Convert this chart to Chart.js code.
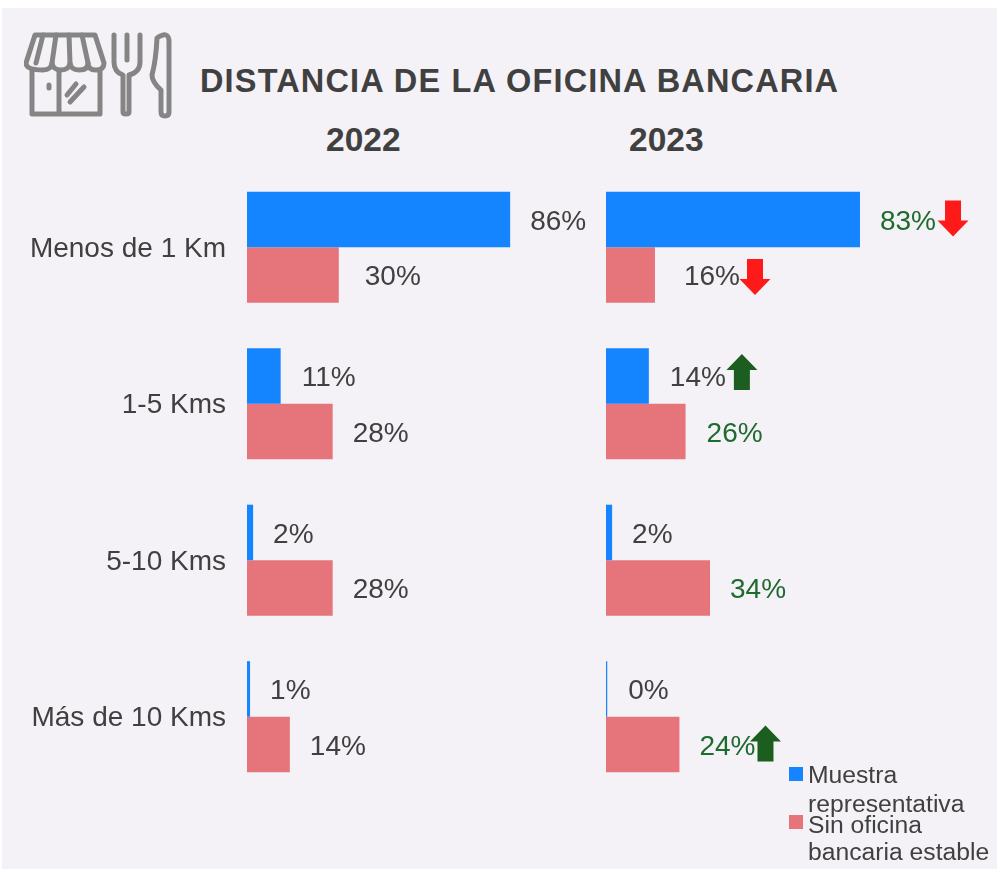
<!DOCTYPE html>
<html lang="es"><head><meta charset="utf-8">
<script src="https://cdn.jsdelivr.net/npm/chart.js@4"></script>
<style>
html,body{margin:0;padding:0;background:#fff;overflow:hidden}
#page{position:relative;width:1000px;height:874px;font-family:"Liberation Sans",Arial,sans-serif;color:#404040}
#bg{position:absolute;left:2px;top:8px;width:995px;height:861px;background:#f4f2f6}
canvas{position:absolute}
.t{position:absolute;white-space:nowrap;line-height:1}
.sw{position:absolute;width:14px;height:14px}
svg{position:absolute}
</style></head><body>
<div id="page">
<div id="bg"></div>
<svg id="icon" style="left:24px;top:30px" width="150" height="90" viewBox="0 0 150 90" fill="none" stroke="#858585" stroke-width="5" stroke-linecap="round" stroke-linejoin="round">
  <path d="M11 5H71L80 33Q80 40 72 40Q64 40 64 33Q64 40 55 40Q47 40 46 33Q45 40 37 40Q29 40 28 33Q27 40 19 40Q2 40 2 33Z"/>
  <path d="M19 5L12 33M32 5L28 33M45 5L46 33M58 5L64 33"/>
  <path d="M8 41V84H76V41M35 41V84"/>
  <path d="M25 55V58M43 65L52 54M46 72L60 57"/>
  <path d="M90 5V32Q90 42 99 45V82Q99 84 102 84Q105 84 105 82V45Q116 42 116 32V5M103 5V30"/>
  <path d="M133 8Q145 0 145 12V82Q145 86 141 86Q137 86 137 82V60Q128 52 128 45Q132 30 133 8Z"/>
</svg>
<div class="t" style="left:200px;top:65px;font-size:32.5px;font-weight:bold;letter-spacing:1.15px">DISTANCIA DE LA OFICINA BANCARIA</div>
<div class="t" style="left:326px;top:123px;font-size:33.5px;font-weight:bold">2022</div>
<div class="t" style="left:629px;top:123px;font-size:33.5px;font-weight:bold">2023</div>
<canvas id="c1" style="left:0;top:169px"></canvas>
<canvas id="c2" style="left:606px;top:169px"></canvas>
<div class="sw" style="left:789px;top:767px;background:#1484ff"></div>
<div class="t" style="left:808px;top:763px;font-size:24.7px">Muestra</div>
<div class="t" style="left:808px;top:792px;font-size:24.7px">representativa</div>
<div class="sw" style="left:789px;top:815px;background:#e5757b"></div>
<div class="t" style="left:808px;top:813px;font-size:24.7px">Sin oficina</div>
<div class="t" style="left:808px;top:840px;font-size:24.7px">bancaria estable</div>
</div>
<script>
const categories = ['Menos de 1 Km', '1-5 Kms', '5-10 Kms', 'Más de 10 Kms'];
const seriesNames = ['Muestra representativa', 'Sin oficina bancaria estable'];
const muestra2022 = [86, 11, 2, 1];
const sinOficina2022 = [30, 28, 28, 14];
const muestra2023 = [83, 14, 2, 0.4];
const sinOficina2023 = [16, 26, 34, 24];
const arrowsMuestra2023 = ['down', 'up', null, null];
const arrowsSinOficina2023 = ['down', null, null, 'up'];
const greenMuestra2023 = [true, false, false, false];
const greenSinOficina2023 = [false, true, true, true];

const BLUE = '#1484ff', RED = '#e5757b', TEXT = '#404040', GREEN = '#1f6a2f';
const FONT = '"Liberation Sans", Arial, sans-serif';

function drawArrow(ctx, cx, cy, dir) {
  const s = dir === 'up' ? -1 : 1;
  ctx.save();
  ctx.fillStyle = dir === 'up' ? '#1b5e20' : '#ff1a1a';
  ctx.beginPath();
  ctx.moveTo(cx - 8, cy - s * 18);
  ctx.lineTo(cx + 8, cy - s * 18);
  ctx.lineTo(cx + 8, cy + s * 2);
  ctx.lineTo(cx + 15.5, cy + s * 2);
  ctx.lineTo(cx, cy + s * 18);
  ctx.lineTo(cx - 15.5, cy + s * 2);
  ctx.lineTo(cx - 8, cy + s * 2);
  ctx.closePath();
  ctx.fill();
  ctx.restore();
}

const barLabels = {
  id: 'barLabels',
  afterDatasetsDraw(chart, args, opts) {
    const ctx = chart.ctx;
    ctx.save();
    ctx.font = '28px ' + FONT;
    ctx.textAlign = 'left';
    ctx.textBaseline = 'middle';
    chart.data.datasets.forEach((ds, d) => {
      chart.getDatasetMeta(d).data.forEach((bar, i) => {
        const key = d + ':' + i;
        const txt = Math.round(ds.data[i]) + '%';
        const gap = 20 + ((opts.nudge && opts.nudge[key]) || 0);
        const x = bar.x + gap, y = bar.y + 2.5;
        ctx.fillStyle = ds.green && ds.green[i] ? GREEN : TEXT;
        ctx.fillText(txt, x, y);
        const dir = ds.arrows && ds.arrows[i];
        if (dir) {
          const sh = (opts.arrowShift && opts.arrowShift[key]) || [0, 0];
          drawArrow(ctx, x + ctx.measureText(txt).width + 16 + sh[0], bar.y - 1 + sh[1], dir);
        }
      });
    });
    ctx.restore();
  }
};

function makeChart(id, width, a, b, extra, showAxis, rightPad, nudge, arrowShift) {
  const cv = document.getElementById(id);
  cv.width = width; cv.height = 626;
  cv.style.width = width + 'px'; cv.style.height = '626px';
  return new Chart(cv, {
    type: 'bar',
    data: {
      labels: categories,
      datasets: [
        Object.assign({ label: seriesNames[0], data: a, backgroundColor: BLUE }, extra[0]),
        Object.assign({ label: seriesNames[1], data: b, backgroundColor: RED }, extra[1])
      ]
    },
    options: {
      indexAxis: 'y',
      responsive: false,
      animation: false,
      layout: { padding: { left: 0, top: 0, bottom: 0, right: rightPad } },
      datasets: { bar: { barPercentage: 1, categoryPercentage: 0.71, borderWidth: 0 } },
      plugins: { legend: { display: false }, tooltip: { enabled: false }, barLabels: { nudge, arrowShift } },
      scales: {
        x: { display: false, min: 0, max: 100 },
        y: {
          display: showAxis,
          grid: { display: false, drawTicks: false },
          border: { display: false },
          ticks: { padding: 21, labelOffset: 2, color: TEXT, font: { family: FONT, size: 28 } },
          afterFit(scale) {
            if (showAxis) { scale.width = 247; scale.paddingTop = 0; scale.paddingBottom = 0; }
          }
        }
      }
    },
    plugins: [barLabels]
  });
}

makeChart('c1', 600, muestra2022, sinOficina2022, [{}, {}], true, 47, { '1:0': 6, '0:1': 1 }, {});
makeChart('c2', 394, muestra2023, sinOficina2023, [
  { arrows: arrowsMuestra2023, green: greenMuestra2023 },
  { arrows: arrowsSinOficina2023, green: greenSinOficina2023 }
], false, 88,
  { '1:0': 9, '0:1': 1, '1:1': 1, '0:3': 1 },
  { '0:0': [1, 0], '1:0': [-1, 3], '0:1': [0, -3], '1:3': [-6, 0] });
</script>
</body></html>
